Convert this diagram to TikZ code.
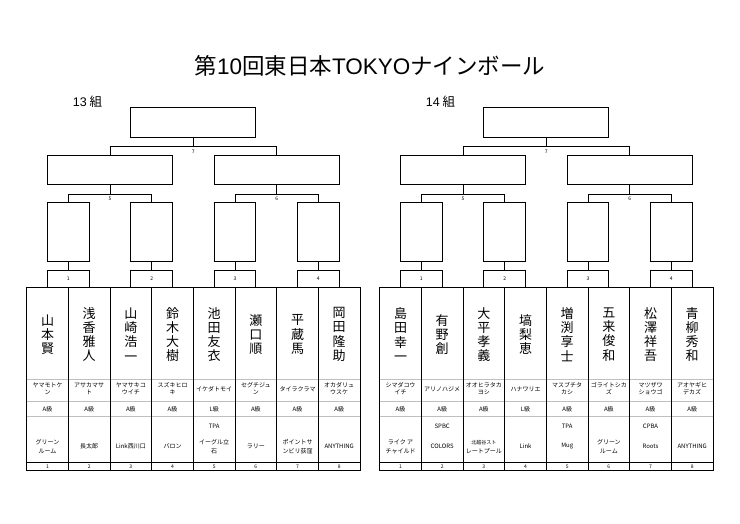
\documentclass[tikz,border=0pt]{standalone}
\usepackage{fontspec}
\setmainfont{Noto Sans CJK JP}
\newfontfamily\lat{Liberation Sans}
\usetikzlibrary{calc}
\tikzset{
  every node/.style={inner sep=0pt, outer sep=0pt},
  ln/.style={draw=black, line width=0.8pt},
  lite/.style={draw=black!25, line width=0.6pt},
  bxT/.style={ln, minimum width=125pt, minimum height=30.4pt},
  bxM/.style={ln, minimum width=125pt, minimum height=29.7pt},
  bxL/.style={ln, minimum width=41.667pt, minimum height=59.3pt},
  bxS/.style={ln, minimum width=41.667pt, minimum height=17.7pt},
  nm/.style={align=center, font=\fontsize{13}{14.2}\selectfont},
  sm/.style={align=center, font=\fontsize{6}{7}\selectfont},
  smc/.style={align=center, font=\fontsize{6}{9}\selectfont},
  num/.style={font=\fontsize{5}{6}\selectfont},
  grp/.style={font=\fontsize{12.5}{14}\selectfont},
}
\newcommand\plr[8]{%
  \pgfmathsetmacro\cx{#1+(#2-0.5)*41.667}
  \node[nm] (nm#8#2) at (\cx,334.5) {#3};
  \node[sm] (rd#8#2) at (\cx,389) {#4};
  \node[sm] (cl#8#2) at (\cx,408.8) {#5};
  \node[sm] (as#8#2) at (\cx,426.5) {#6};
  \node[smc] (cb#8#2) at (\cx,446.5) {#7};
  \node[num] (no#8#2) at (\cx,466.4) {#2};
}
\newcommand\brk[3]{%
  \node[grp] (lbl#2) at (#1+60.8,101.7) {#3};
  % boxes
  \node[bxT] (T#2) at (#1+4*41.667,122.5) {};
  \node[bxM] (A#2) at (#1+2*41.667,169.85) {};
  \node[bxM] (B#2) at (#1+6*41.667,169.85) {};
  \node[bxL] (C#2) at (#1+1*41.667,231.65) {};
  \node[bxL] (D#2) at (#1+3*41.667,231.65) {};
  \node[bxL] (E#2) at (#1+5*41.667,231.65) {};
  \node[bxL] (F#2) at (#1+7*41.667,231.65) {};
  \node[bxS] (S1#2) at (#1+1*41.667,278.85) {};
  \node[bxS] (S2#2) at (#1+3*41.667,278.85) {};
  \node[bxS] (S3#2) at (#1+5*41.667,278.85) {};
  \node[bxS] (S4#2) at (#1+7*41.667,278.85) {};
  \node[num] (m1#2) at (S1#2.center) {1};
  \node[num] (m2#2) at (S2#2.center) {2};
  \node[num] (m3#2) at (S3#2.center) {3};
  \node[num] (m4#2) at (S4#2.center) {4};
  % connectors
  \draw[ln] (T#2.south) -- ++(0,8.8) coordinate (jT#2);
  \draw[ln] (A#2.north) |- (jT#2) -| (B#2.north);
  \draw[ln] (A#2.south) -- ++(0,9.6) coordinate (jA#2);
  \draw[ln] (C#2.north) |- (jA#2) -| (D#2.north);
  \draw[ln] (B#2.south) -- ++(0,9.6) coordinate (jB#2);
  \draw[ln] (E#2.north) |- (jB#2) -| (F#2.north);
  \draw[ln] (C#2.south) -- (S1#2.north);
  \draw[ln] (D#2.south) -- (S2#2.north);
  \draw[ln] (E#2.south) -- (S3#2.north);
  \draw[ln] (F#2.south) -- (S4#2.north);
  \path (jT#2) ++(0,4.8) node[num] (k7#2) {7};
  \path (jA#2) ++(0,4.2) node[num] (k5#2) {5};
  \path (jB#2) ++(0,4.2) node[num] (k6#2) {6};
  % table
  \foreach \yy in {379.3,401.7,416} {
    \draw[lite] (#1,\yy) -- (#1+8*41.667,\yy);
  }
  \draw[ln] (#1,462.7) -- (#1+8*41.667,462.7);
  \foreach \k in {1,...,7} {
    \draw[ln] (#1+\k*41.667,287.7) -- (#1+\k*41.667,470);
  }
  \draw[ln] (#1,287.7) rectangle (#1+8*41.667,470);
}
\begin{document}
\begin{tikzpicture}[x=1pt,y=-1pt]
\useasboundingbox (0,0) rectangle (740,523);
\node[font=\fontsize{22.5}{24}\selectfont] (title) at (370,66) {第{\lat 10}回東日本{\lat TOKYO}ナインボール};
\brk{26.7}{a}{{\lat 13} 組}
\brk{379.7}{b}{{\lat 14} 組}
\plr{26.7}{1}{山\\本\\賢}{ヤマモトケ\\ン}{A級}{}{グリーン\\ルーム}{a}
\plr{26.7}{2}{浅\\香\\雅\\人}{アサカマサ\\ト}{A級}{}{長太郎}{a}
\plr{26.7}{3}{山\\崎\\浩\\一}{ヤマサキコ\\ウイチ}{A級}{}{Link西川口}{a}
\plr{26.7}{4}{鈴\\木\\大\\樹}{スズキヒロ\\キ}{A級}{}{バロン}{a}
\plr{26.7}{5}{池\\田\\友\\衣}{イケダトモイ}{L級}{TPA}{イーグル立\\石}{a}
\plr{26.7}{6}{瀬\\口\\順}{セグチジュ\\ン}{A級}{}{ラリー}{a}
\plr{26.7}{7}{平\\蔵\\馬}{タイラクラマ}{A級}{}{ポイントサ\\ンビリ荻窪}{a}
\plr{26.7}{8}{岡\\田\\隆\\助}{オカダリュ\\ウスケ}{A級}{}{ANYTHING}{a}
\plr{379.7}{1}{島\\田\\幸\\一}{シマダコウ\\イチ}{A級}{}{ライク ア\\チャイルド}{b}
\plr{379.7}{2}{有\\野\\創}{アリノハジメ}{A級}{SPBC}{COLORS}{b}
\plr{379.7}{3}{大\\平\\孝\\義}{オオヒラタカ\\ヨシ}{A級}{}{\fontsize{5}{6.5}\selectfont 北越谷スト\\レートプール}{b}
\plr{379.7}{4}{塙\\梨\\恵}{ハナワリエ}{L級}{}{Link}{b}
\plr{379.7}{5}{増\\渕\\享\\士}{マスブチタ\\カシ}{A級}{TPA}{Mug}{b}
\plr{379.7}{6}{五\\来\\俊\\和}{ゴライトシカ\\ズ}{A級}{}{グリーン\\ルーム}{b}
\plr{379.7}{7}{松\\澤\\祥\\吾}{マツザワ\\ショウゴ}{A級}{CPBA}{Roots}{b}
\plr{379.7}{8}{青\\柳\\秀\\和}{アオヤギヒ\\デカズ}{A級}{}{ANYTHING}{b}
\end{tikzpicture}
\end{document}
